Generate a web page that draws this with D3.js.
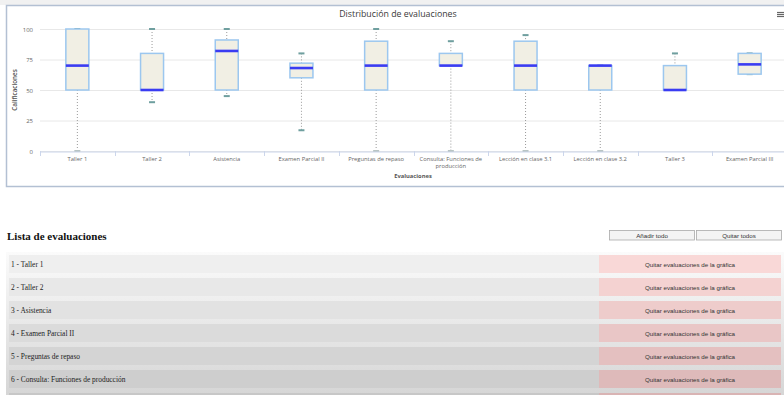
<!DOCTYPE html>
<html>
<head>
<meta charset="utf-8">
<script src="https://cdn.jsdelivr.net/npm/d3@7"></script>
<style>
  body { margin: 0; background: #fff; overflow: hidden; }
  svg { display: block; }
</style>
</head>
<body>
<svg id="page" width="784" height="395"></svg>
<script>
// Data
var categories = ["Taller 1", "Taller 2", "Asistencia", "Examen Parcial II", "Preguntas de repaso",
    "Consulta: Funciones de producción", "Lección en clase 3.1", "Lección en clase 3.2", "Taller 3", "Examen Parcial III"];
var lows    = [0, 40, 45, 17, 0, 0, 0, 0, 50, 63];
var q1s     = [50, 50, 50, 60, 50, 70, 50, 50, 50, 63];
var medians = [70, 50, 82, 68, 70, 70, 70, 70, 50, 71];
var q3s     = [100, 80, 91, 72, 90, 80, 90, 70, 70, 80];
var highs   = [100, 100, 100, 80, 100, 90, 95, 70, 80, 80];
var yTicks  = [0, 25, 50, 75, 100];
var listItems = ["Taller 1", "Taller 2", "Asistencia", "Examen Parcial II", "Preguntas de repaso",
    "Consulta: Funciones de producción"];

var data = categories.map(function(c, i) {
    return {name: c, low: lows[i], q1: q1s[i], median: medians[i], q3: q3s[i], high: highs[i]};
});

var svg = d3.select("#page");

// page background bits
svg.append("rect").attr("x", 0).attr("y", 0).attr("width", 784).attr("height", 5).attr("fill", "#f1f1f1");

// chart panel
svg.append("rect")
    .attr("x", 6.5).attr("y", 5.5).attr("width", 790).attr("height", 181)
    .attr("fill", "#fff").attr("stroke", "#b3c0d3").attr("stroke-width", 1.5);

svg.append("text")
    .attr("x", 398).attr("y", 16.5)
    .attr("text-anchor", "middle")
    .attr("font-family", "'Open Sans', sans-serif")
    .attr("font-size", 8.8).attr("fill", "#3a3a3a")
    .text("Distribución de evaluaciones");

// hamburger
[12.5, 14.5, 16.5].forEach(function(y) {
    svg.append("line").attr("x1", 777).attr("x2", 784).attr("y1", y).attr("y2", y)
        .attr("stroke", "#666").attr("stroke-width", 1.2);
});

var margin = {left: 40, top: 29},
    plotW = 747,
    plotH = 122;

var g = svg.append("g").attr("transform", "translate(" + margin.left + "," + margin.top + ")");

var x = d3.scaleBand().domain(categories).range([0, plotW]);
var y = d3.scaleLinear().domain([0, 100]).range([plotH, 0]);

// grid
g.selectAll(".grid").data(yTicks).enter().append("line")
    .attr("x1", 0).attr("x2", plotW)
    .attr("y1", function(d) { return y(d) + 0.5; })
    .attr("y2", function(d) { return y(d) + 0.5; })
    .attr("stroke", "#e8e8e8");

// y axis labels
g.selectAll(".ylab").data(yTicks).enter().append("text")
    .attr("x", -7).attr("y", function(d) { return y(d) + 2.5; })
    .attr("text-anchor", "end")
    .attr("font-family", "'Open Sans', sans-serif").attr("font-size", 6).attr("fill", "#666")
    .text(function(d) { return d; });

svg.append("text")
    .attr("transform", "translate(17,90) rotate(-90)")
    .attr("text-anchor", "middle")
    .attr("font-family", "'Open Sans', sans-serif").attr("font-size", 6.3).attr("font-weight", 600).attr("fill", "#555")
    .text("Calificaciones");

// boxes (drawn before the axis so the zero caps sit under it)
var boxW = 23;
var box = g.selectAll(".box").data(data).enter().append("g")
    .attr("transform", function(d) { return "translate(" + (x(d.name) + x.bandwidth() / 2) + ",0)"; });

box.append("line")
    .attr("x1", 0).attr("x2", 0)
    .attr("y1", function(d) { return y(d.high); })
    .attr("y2", function(d) { return y(d.q3); })
    .attr("stroke", "#9a9a9a").attr("stroke-dasharray", "1,2");
box.append("line")
    .attr("x1", 0).attr("x2", 0)
    .attr("y1", function(d) { return y(d.q1); })
    .attr("y2", function(d) { return y(d.low); })
    .attr("stroke", "#9a9a9a").attr("stroke-dasharray", "1,2");

box.selectAll(".cap").data(function(d) { return [d.low, d.high]; }).enter().append("line")
    .attr("x1", -3).attr("x2", 3)
    .attr("y1", function(v) { return y(v); })
    .attr("y2", function(v) { return y(v); })
    .attr("stroke", function(v) { return v === 0 ? "#b8c4c4" : "#6f9f9f"; })
    .attr("stroke-width", 2);

box.append("rect")
    .attr("x", -boxW / 2)
    .attr("y", function(d) { return y(d.q3); })
    .attr("width", boxW)
    .attr("height", function(d) { return y(d.q1) - y(d.q3); })
    .attr("fill", "#f1efe4").attr("stroke", "#9cc7ef").attr("stroke-width", 1.5);

box.append("line")
    .attr("x1", -boxW / 2).attr("x2", boxW / 2)
    .attr("y1", function(d) { return y(d.median); })
    .attr("y2", function(d) { return y(d.median); })
    .attr("stroke", "#3a3cf2").attr("stroke-width", 2.6);

// x axis
var xAxis = d3.axisBottom(x).tickSize(0).tickFormat("");
var xg = g.append("g").attr("transform", "translate(0," + (plotH + 0.5) + ")").call(xAxis);
xg.select(".domain").attr("stroke", "#ccd6eb");
g.selectAll(".xtick").data(categories).enter().append("line")
    .attr("x1", function(d) { return Math.round(x(d)) + 0.5; })
    .attr("x2", function(d) { return Math.round(x(d)) + 0.5; })
    .attr("y1", plotH).attr("y2", plotH + 5)
    .attr("stroke", "#ccd6eb");

g.selectAll(".xlab").data(categories).enter().append("text")
    .attr("x", function(d) { return x(d) + x.bandwidth() / 2; })
    .attr("y", plotH + 10)
    .attr("text-anchor", "middle")
    .attr("font-family", "'Open Sans', sans-serif").attr("font-size", 5.8).attr("fill", "#666")
    .each(function(d) {
        var t = d3.select(this);
        var lines = d.length > 22 ? [d.slice(0, d.lastIndexOf(" ")), d.slice(d.lastIndexOf(" ") + 1)] : [d];
        lines.forEach(function(l, i) {
            t.append("tspan").attr("x", x(d) + x.bandwidth() / 2).attr("dy", i ? 6.8 : 0).text(l);
        });
    });

svg.append("text")
    .attr("x", 413).attr("y", 178)
    .attr("text-anchor", "middle")
    .attr("font-family", "'Open Sans', sans-serif").attr("font-size", 5.8).attr("font-weight", "bold").attr("fill", "#555")
    .text("Evaluaciones");

// lower list
var grad = svg.append("defs").append("linearGradient").attr("id", "bg").attr("x1", 0).attr("x2", 0).attr("y1", 0).attr("y2", 1);
grad.append("stop").attr("offset", "0").attr("stop-color", "#fbfbfb");
grad.append("stop").attr("offset", "1").attr("stop-color", "#d6d6d6");
svg.append("rect").attr("x", 6).attr("y", 252).attr("width", 778).attr("height", 143).attr("fill", "url(#bg)");

svg.append("text")
    .attr("x", 7).attr("y", 239.5)
    .attr("font-family", "'Liberation Serif', 'DejaVu Serif', serif").attr("font-size", 11).attr("font-weight", "bold").attr("fill", "#111")
    .text("Lista de evaluaciones");

var buttons = [{label: "Añadir todo", x: 609}, {label: "Quitar todos", x: 696}];
buttons.forEach(function(b) {
    svg.append("rect").attr("x", b.x + 0.5).attr("y", 230.5).attr("width", 85).attr("height", 9.5)
        .attr("fill", "#f4f4f4").attr("stroke", "#aaa").attr("stroke-width", 0.8);
    svg.append("text").attr("x", b.x + 43).attr("y", 237.8).attr("text-anchor", "middle")
        .attr("font-family", "Arial, 'Liberation Sans', sans-serif").attr("font-size", 6.2).attr("fill", "#333")
        .text(b.label);
});

var rowShade = d3.scaleLinear().domain([0, 6]).range(["#efefef", "#c7c7c7"]);
var pinkShade = d3.scaleLinear().domain([0, 6]).range(["#f9d8d7", "#d9b4b4"]);

// one more row peeks in at the bottom edge, without visible text
var rowIdx = d3.range(listItems.length + 1);
var rows = svg.selectAll(".row").data(rowIdx).enter().append("g")
    .attr("transform", function(i) { return "translate(0," + (255 + i * 23) + ")"; });
rows.append("rect").attr("x", 9).attr("y", 0).attr("width", 590).attr("height", 18)
    .attr("fill", function(i) { return rowShade(i); });
rows.append("rect").attr("x", 599).attr("y", 0).attr("width", 182).attr("height", 18)
    .attr("fill", function(i) { return pinkShade(i); });
rows.filter(function(i) { return i < listItems.length; }).append("text").attr("x", 11).attr("y", 11.5)
    .attr("font-family", "'Liberation Serif', 'DejaVu Serif', serif").attr("font-size", 7.4).attr("fill", "#222")
    .text(function(i) { return (i + 1) + " - " + listItems[i]; });
rows.filter(function(i) { return i < listItems.length; }).append("text").attr("x", 690).attr("y", 11.5).attr("text-anchor", "middle")
    .attr("font-family", "Arial, 'Liberation Sans', sans-serif").attr("font-size", 6.2).attr("fill", "#333")
    .text("Quitar evaluaciones de la gráfica");
</script>
</body>
</html>
